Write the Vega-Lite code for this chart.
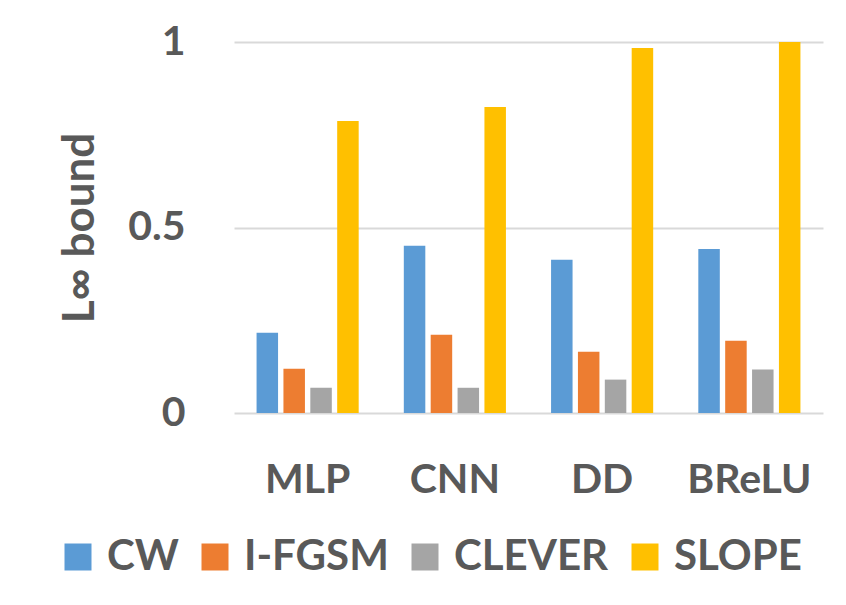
{
  "$schema": "https://vega.github.io/schema/vega-lite/v6.json",
  "width": 589,
  "height": 371,
  "autosize": "none",
  "padding": {"left": 234, "top": 42, "right": 23, "bottom": 192},
  "background": "white",
  "config": {
    "view": {"stroke": null},
    "font": "Lato",
    "axis": {"labelFont": "Lato", "titleFont": "Lato"},
    "legend": {"labelFont": "Lato"}
  },
  "data": {
    "values": [
      {"model": "MLP", "method": "CW", "value": 0.216},
      {"model": "MLP", "method": "I-FGSM", "value": 0.119},
      {"model": "MLP", "method": "CLEVER", "value": 0.068},
      {"model": "MLP", "method": "SLOPE", "value": 0.787},
      {"model": "CNN", "method": "CW", "value": 0.451},
      {"model": "CNN", "method": "I-FGSM", "value": 0.211},
      {"model": "CNN", "method": "CLEVER", "value": 0.068},
      {"model": "CNN", "method": "SLOPE", "value": 0.825},
      {"model": "DD", "method": "CW", "value": 0.413},
      {"model": "DD", "method": "I-FGSM", "value": 0.165},
      {"model": "DD", "method": "CLEVER", "value": 0.09},
      {"model": "DD", "method": "SLOPE", "value": 0.984},
      {"model": "BReLU", "method": "CW", "value": 0.442},
      {"model": "BReLU", "method": "I-FGSM", "value": 0.195},
      {"model": "BReLU", "method": "CLEVER", "value": 0.117},
      {"model": "BReLU", "method": "SLOPE", "value": 1.0}
    ]
  },
  "mark": {"type": "bar"},
  "encoding": {
    "x": {
      "field": "model",
      "type": "nominal",
      "sort": ["MLP", "CNN", "DD", "BReLU"],
      "scale": {"paddingInner": 0.27, "paddingOuter": 0.135},
      "axis": {
        "title": null,
        "labelAngle": 0,
        "domain": false,
        "ticks": false,
        "tickSize": 0,
        "labelPadding": 79,
        "labelBaseline": "alphabetic",
        "labelFontSize": 41,
        "labelFontWeight": "bold",
        "labelColor": "#595959"
      }
    },
    "xOffset": {
      "field": "method",
      "type": "nominal",
      "sort": ["CW", "I-FGSM", "CLEVER", "SLOPE"],
      "scale": {"paddingInner": 0.2, "paddingOuter": 0.1}
    },
    "y": {
      "field": "value",
      "type": "quantitative",
      "scale": {"domain": [0, 1], "nice": false},
      "axis": {
        "values": [0, 0.5, 1],
        "format": "~g",
        "title": "L∞ bound",
        "titleFontSize": 44,
        "titleFontWeight": "bold",
        "titleColor": "#595959",
        "titleAngle": -90,
        "titleAlign": "center",
        "titleBaseline": "middle",
        "titleX": -154,
        "titleY": 185.5,
        "domain": false,
        "ticks": false,
        "tickSize": 0,
        "labelPadding": 49,
        "labelFlush": false,
        "labelFontSize": 41,
        "labelFontWeight": "bold",
        "labelColor": "#595959",
        "grid": true,
        "gridColor": "#D9D9D9",
        "gridWidth": 2
      }
    },
    "color": {
      "field": "method",
      "type": "nominal",
      "sort": ["CW", "I-FGSM", "CLEVER", "SLOPE"],
      "scale": {
        "domain": ["CW", "I-FGSM", "CLEVER", "SLOPE"],
        "range": ["#5B9BD5", "#ED7D31", "#A5A5A5", "#FFC000"]
      },
      "legend": {
        "title": null,
        "orient": "none",
        "direction": "horizontal",
        "legendX": -177,
        "legendY": 494,
        "padding": 0,
        "symbolType": "square",
        "symbolSize": 729,
        "symbolStrokeWidth": 0,
        "symbolOpacity": 1,
        "labelFontSize": 42,
        "labelFontWeight": "bold",
        "labelColor": "#595959",
        "labelOffset": 8,
        "columnPadding": 15,
        "labelLimit": 400
      }
    }
  }
}
